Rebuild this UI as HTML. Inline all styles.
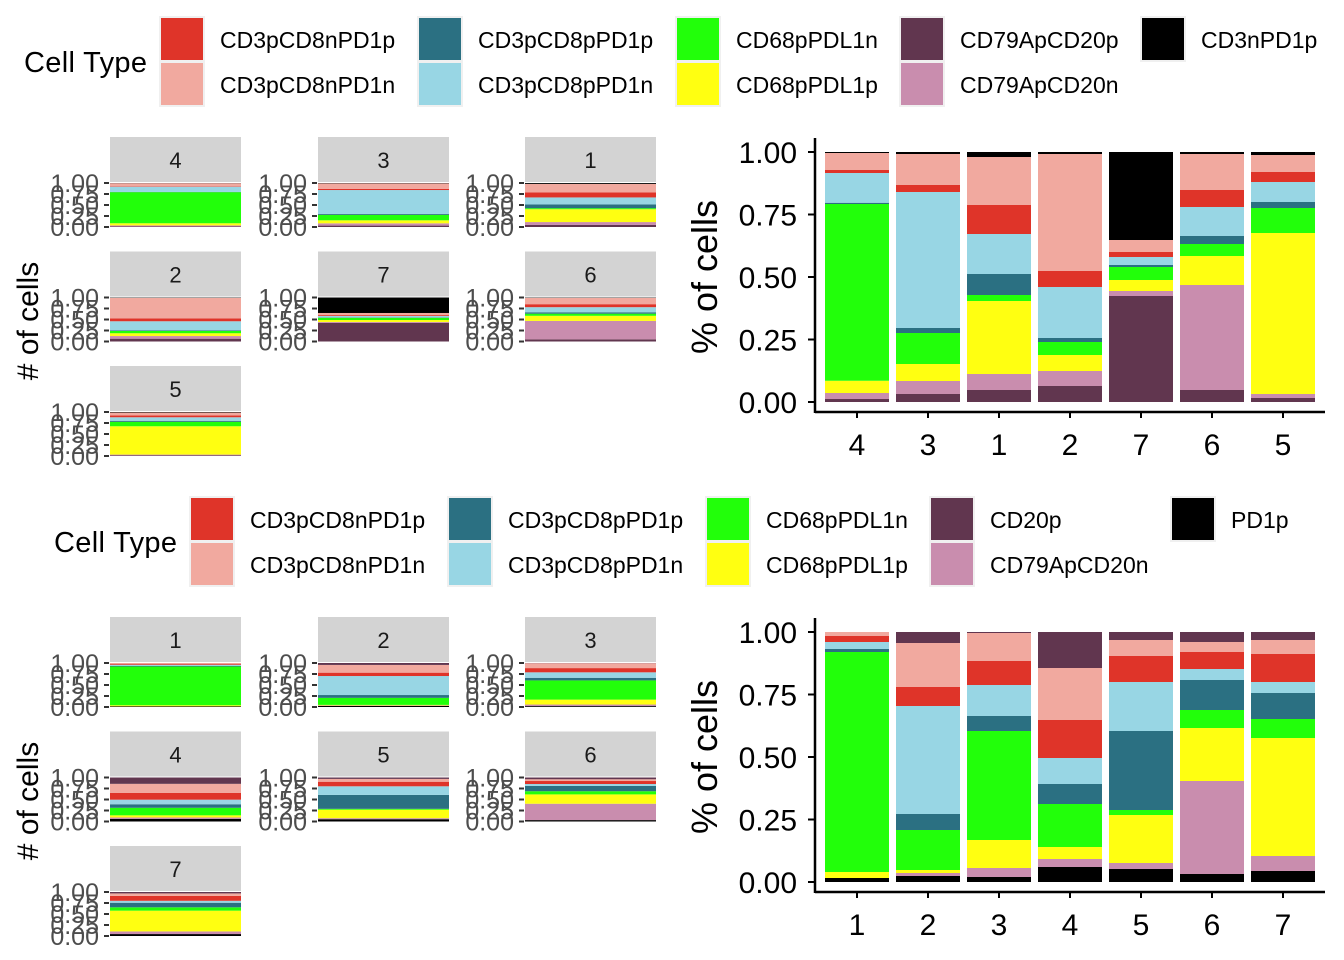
<!DOCTYPE html>
<html><head><meta charset="utf-8">
<style>
html,body{margin:0;padding:0;background:#fff;}
svg{display:block;font-family:"Liberation Sans",Arial,sans-serif;}
</style></head>
<body>
<svg id="chart" width="1344" height="960" viewBox="0 0 1344 960" xmlns="http://www.w3.org/2000/svg"></svg>
<script>
// ---------- data ----------
const topClusters = ["4","3","1","2","7","6","5"];
// stacked bottom -> top
const topTypes = ["CD79ApCD20p","CD79ApCD20n","CD68pPDL1p","CD68pPDL1n","CD3pCD8pPD1p","CD3pCD8pPD1n","CD3pCD8nPD1p","CD3pCD8nPD1n","CD3nPD1p"];
const topCD79ApCD20p = [0.012,0.032,0.048,0.064,0.424,0.048,0.016];
const topCD79ApCD20n = [0.024,0.052,0.064,0.060,0.020,0.420,0.016];
const topCD68pPDL1p  = [0.049,0.068,0.292,0.064,0.044,0.116,0.644];
const topCD68pPDL1n  = [0.707,0.124,0.024,0.052,0.052,0.048,0.100];
const topCD3pCD8pPD1p= [0.005,0.020,0.084,0.016,0.008,0.032,0.024];
const topCD3pCD8pPD1n= [0.119,0.544,0.160,0.204,0.032,0.116,0.080];
const topCD3pCD8nPD1p= [0.012,0.028,0.116,0.064,0.020,0.068,0.040];
const topCD3pCD8nPD1n= [0.068,0.124,0.192,0.468,0.048,0.144,0.068];
const topCD3nPD1p    = [0.004,0.008,0.020,0.008,0.352,0.008,0.012];

const botClusters = ["1","2","3","4","5","6","7"];
const botTypes = ["PD1p","CD79ApCD20n","CD68pPDL1p","CD68pPDL1n","CD3pCD8pPD1p","CD3pCD8pPD1n","CD3pCD8nPD1p","CD3pCD8nPD1n","CD20p"];
const botPD1p        = [0.016,0.024,0.020,0.060,0.052,0.032,0.044];
const botCD79ApCD20n = [0.000,0.012,0.036,0.032,0.024,0.372,0.060];
const botCD68pPDL1p  = [0.024,0.012,0.112,0.048,0.192,0.212,0.472];
const botCD68pPDL1n  = [0.880,0.160,0.436,0.172,0.020,0.072,0.076];
const botCD3pCD8pPD1p= [0.012,0.064,0.060,0.080,0.316,0.120,0.104];
const botCD3pCD8pPD1n= [0.028,0.432,0.124,0.104,0.196,0.044,0.044];
const botCD3pCD8nPD1p= [0.024,0.076,0.096,0.152,0.104,0.068,0.112];
const botCD3pCD8nPD1n= [0.016,0.176,0.112,0.208,0.064,0.040,0.056];
const botCD20p       = [0.000,0.044,0.004,0.144,0.032,0.040,0.032];

const yTicks = [0,0.25,0.5,0.75,1];
const yTickLabels = ["0.00","0.25","0.50","0.75","1.00"];

const topFacetOrder = ["4","3","1","2","7","6","5"];
const botFacetOrder = ["1","2","3","4","5","6","7"];

const COL = {red:"#DF3429",salmon:"#F1A99F",teal:"#2B7082",lblue:"#98D6E4",green:"#22FF0A",yellow:"#FFFF11",dpurple:"#61364F",pink:"#C98DAE",black:"#000000"};
const topSeries = [topCD79ApCD20p,topCD79ApCD20n,topCD68pPDL1p,topCD68pPDL1n,topCD3pCD8pPD1p,topCD3pCD8pPD1n,topCD3pCD8nPD1p,topCD3pCD8nPD1n,topCD3nPD1p];
const topColors = [COL.dpurple,COL.pink,COL.yellow,COL.green,COL.teal,COL.lblue,COL.red,COL.salmon,COL.black];
const botSeries = [botPD1p,botCD79ApCD20n,botCD68pPDL1p,botCD68pPDL1n,botCD3pCD8pPD1p,botCD3pCD8pPD1n,botCD3pCD8nPD1p,botCD3pCD8nPD1n,botCD20p];
const botColors = [COL.black,COL.pink,COL.yellow,COL.green,COL.teal,COL.lblue,COL.red,COL.salmon,COL.dpurple];

const svg = document.getElementById('chart');
const NS = "http://www.w3.org/2000/svg";
function el(tag, attrs, parent){
  const e = document.createElementNS(NS, tag);
  for (const k in attrs) e.setAttribute(k, attrs[k]);
  (parent||svg).appendChild(e);
  return e;
}
function txt(s, attrs, parent){ const t = el('text', attrs, parent); t.textContent = s; return t; }

// ---------- legend ----------
function legend(x0, y0, items){
  const g = el('g', {});
  
  
  const t = txt("Cell Type", {x:x0, y:y0+64, 'font-size':29, 'textLength':123, fill:'#000'}, g);
  
  
  const colX = [136, 394, 652, 876, 1117];
  items.forEach((it, i) => {
    const col = Math.floor(i/2), row = i%2;
    const kx = x0 + colX[col], ky = y0 + 9 + row*45;
    const eg = el('g', {}, g);
    
    
    el('rect', {x:kx-1, y:ky-1, width:46, height:46, fill:'#f0f0f0'}, eg);
    el('rect', {x:kx+1, y:ky+1, width:42, height:42, fill:it[1]}, eg);
    txt(it[0], {x:kx+60, y:ky+31, 'font-size':23, fill:'#000'}, eg);
  });
}
legend(24, 8, [["CD3pCD8nPD1p",COL.red],["CD3pCD8nPD1n",COL.salmon],["CD3pCD8pPD1p",COL.teal],["CD3pCD8pPD1n",COL.lblue],["CD68pPDL1n",COL.green],["CD68pPDL1p",COL.yellow],["CD79ApCD20p",COL.dpurple],["CD79ApCD20n",COL.pink],["CD3nPD1p",COL.black]]);
legend(54, 488, [["CD3pCD8nPD1p",COL.red],["CD3pCD8nPD1n",COL.salmon],["CD3pCD8pPD1p",COL.teal],["CD3pCD8pPD1n",COL.lblue],["CD68pPDL1n",COL.green],["CD68pPDL1p",COL.yellow],["CD20p",COL.dpurple],["CD79ApCD20n",COL.pink],["PD1p",COL.black]]);

// ---------- stacked bar chart ----------
function stacked(clusters, series, colors, top, name){
  const g = el('g', {});
  
  
  const y0 = top + 250, x0 = 815, band = 71, barW = 64, firstX = 825;
  const y = v => y0 - v*250;
  const xb = i => firstX + i*band;
  clusters.forEach((c, i) => {
    let cum = 0;
    series.forEach((s, k) => {
      const v = s[i];
      if (v > 0) {
        const r = el('rect', {x:xb(i), y:y(cum+v), width:barW, height:y(cum)-y(cum+v), fill:colors[k]}, g);
        
        
      }
      cum += v;
    });
    el('line', {x1:xb(i)+barW/2, x2:xb(i)+barW/2, y1:y0+10, y2:y0+16, stroke:'#000', 'stroke-width':2}, g);
    const lab = txt(c, {x:xb(i)+barW/2, y:y0+53, 'font-size':30, 'text-anchor':'middle', fill:'#000'}, g);
    
    
  });
  // axes
  el('line', {x1:x0, x2:1325, y1:y0+10, y2:y0+10, stroke:'#000', 'stroke-width':2.5}, g);
  el('line', {x1:x0, x2:x0, y1:top-14, y2:y0+11, stroke:'#000', 'stroke-width':2.5}, g);
  yTicks.forEach((t, i) => {
    el('line', {x1:x0-7, x2:x0, y1:y(t), y2:y(t), stroke:'#000', 'stroke-width':2}, g);
    const l = txt(yTickLabels[i], {x:x0-18, y:y(t)+11, 'font-size':30, 'text-anchor':'end', fill:'#000'}, g);
    
    
  });
  const yt = txt("% of cells", {x:0, y:0, 'font-size':36, 'text-anchor':'middle', fill:'#000', transform:`translate(717,${top+125}) rotate(-90)`}, g);
  
  
}
stacked(topClusters, topSeries, topColors, 152, 'top-stacked-bar-chart');
stacked(botClusters, botSeries, botColors, 632, 'bottom-stacked-bar-chart');

// ---------- facet small multiples ----------
function facets(order, clusters, series, colors, stripTop, name){
  const g = el('g', {});
  
  
  const colX = [110, 318, 525], w = 131, rowH = 114.5;
  order.forEach((c, n) => {
    const col = n%3, row = Math.floor(n/3);
    const px = colX[col], sy = stripTop + row*rowH;
    const pg = el('g', {}, g);
    
    
    el('rect', {x:px, y:sy, width:w, height:45, fill:'#d3d3d3'}, pg);
    txt(c, {x:px+w/2, y:sy+31, 'font-size':22, 'text-anchor':'middle', fill:'#1a1a1a'}, pg);
    const py0 = sy+46, ph = 44;
    const idx = clusters.indexOf(c);
    const yy = v => py0 + ph - v*ph;
    let cum = 0;
    series.forEach((s, k) => {
      const v = s[idx];
      if (v > 0) el('rect', {x:px, y:yy(cum+v), width:w, height:yy(cum)-yy(cum+v), fill:colors[k]}, pg);
      cum += v;
    });
    yTicks.forEach((t, i) => {
      el('line', {x1:px-6, x2:px-1, y1:yy(t), y2:yy(t), stroke:'#333', 'stroke-width':2}, pg);
      txt(yTickLabels[i], {x:px-11, y:yy(t)+9, 'font-size':25, 'text-anchor':'end', fill:'#4d4d4d'}, pg);
    });
  });
  const yt = txt("# of cells", {x:0, y:0, 'font-size':30, 'text-anchor':'middle', fill:'#000', transform:`translate(38,${stripTop+184}) rotate(-90)`}, g);
  
  
}
facets(topFacetOrder, topClusters, topSeries, topColors, 137, 'top-facet-grid');
facets(botFacetOrder, botClusters, botSeries, botColors, 617, 'bottom-facet-grid');
</script>
</body></html>
